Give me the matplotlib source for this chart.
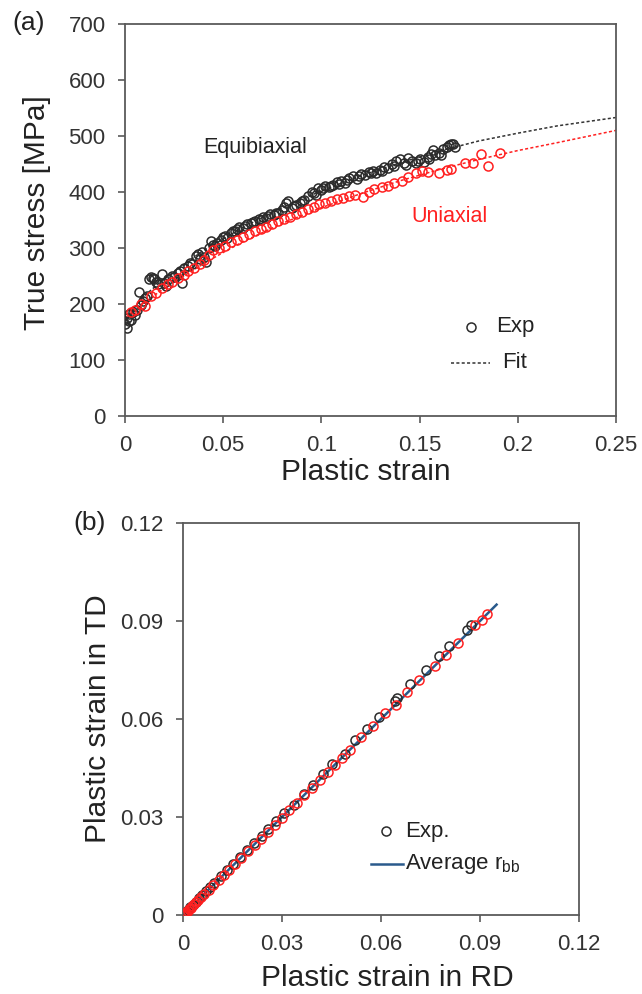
import matplotlib
matplotlib.use("Agg")
import matplotlib.pyplot as plt

plt.rcParams['font.family'] = ['Liberation Sans', 'DejaVu Sans']
plt.rcParams['mathtext.fontset'] = 'custom'
plt.rcParams['mathtext.rm'] = 'Liberation Sans'

# (a) equibiaxial experiment (black)
eq_strain = [0.000, 0.001, 0.001, 0.002, 0.002, 0.003, 0.004, 0.005, 0.006, 0.007,
             0.008, 0.009, 0.010, 0.011, 0.012, 0.013, 0.014, 0.015, 0.016, 0.017,
             0.019, 0.020, 0.021, 0.022, 0.024, 0.025, 0.027, 0.028, 0.029, 0.030,
             0.032, 0.034, 0.036, 0.037, 0.038, 0.040, 0.041, 0.043, 0.044, 0.045,
             0.047, 0.049, 0.050, 0.052, 0.054, 0.055, 0.057, 0.058, 0.060, 0.062,
             0.064, 0.066, 0.068, 0.070, 0.072, 0.074, 0.076, 0.078, 0.080, 0.082,
             0.083, 0.085, 0.087, 0.089, 0.091, 0.093, 0.095, 0.096, 0.098, 0.100,
             0.102, 0.104, 0.106, 0.108, 0.110, 0.112, 0.114, 0.116, 0.118, 0.120,
             0.122, 0.124, 0.126, 0.128, 0.130, 0.132, 0.134, 0.136, 0.138, 0.140,
             0.142, 0.144, 0.146, 0.148, 0.150, 0.152, 0.154, 0.156, 0.157, 0.158,
             0.160, 0.162, 0.164, 0.165, 0.166, 0.167, 0.168,
             0.033, 0.039, 0.046, 0.051, 0.056, 0.061, 0.065, 0.069, 0.073, 0.077,
             0.081, 0.086, 0.090, 0.097, 0.101, 0.105, 0.109, 0.113, 0.119, 0.125,
             0.131, 0.137, 0.143, 0.149, 0.155, 0.161]
eq_stress = [165, 175, 158, 182, 170, 172, 185, 180, 190, 222,
             198, 205, 210, 215, 245, 248, 246, 244, 240, 235,
             254, 238, 232, 244, 250, 248, 255, 258, 237, 264,
             268, 272, 285, 290, 280, 283, 275, 300, 312, 305,
             308, 315, 320, 318, 326, 330, 334, 338, 336, 342,
             345, 349, 352, 355, 354, 360, 358, 363, 367, 380,
             384, 372, 377, 380, 386, 392, 400, 398, 407, 404,
             410, 408, 412, 418, 420, 416, 425, 428, 424, 432,
             430, 436, 438, 434, 440, 444, 442, 450, 455, 458,
             452, 460, 456, 452, 458, 454, 462, 468, 475, 466,
             470, 476, 480, 483, 485, 486, 481,
             274, 292, 303, 322, 331, 340, 347, 350, 357, 362,
             374, 375, 384, 394, 407, 411, 414, 421, 429, 433,
             437, 446, 448, 455, 458, 466]

# (a) uniaxial experiment (red)
uni_strain = [0.003, 0.005, 0.008, 0.010, 0.013, 0.016, 0.019, 0.022, 0.024, 0.027,
              0.030, 0.032, 0.035, 0.038, 0.040, 0.043, 0.045, 0.048, 0.051, 0.054,
              0.057, 0.060, 0.063, 0.066, 0.069, 0.072, 0.075, 0.078, 0.081, 0.084,
              0.087, 0.090, 0.093, 0.096, 0.099, 0.102, 0.105, 0.108, 0.111, 0.114,
              0.117, 0.121, 0.124, 0.127, 0.131, 0.134, 0.137, 0.141, 0.144, 0.148,
              0.151, 0.154, 0.160, 0.164, 0.166, 0.173, 0.177, 0.181, 0.185, 0.191]
uni_stress = [186, 190, 200, 197, 214, 220, 228, 235, 240, 246,
              252, 258, 265, 272, 279, 288, 296, 300, 303, 310,
              314, 320, 325, 330, 334, 338, 343, 348, 352, 356,
              360, 365, 369, 373, 378, 381, 384, 388, 390, 392,
              394, 391, 400, 406, 409, 410, 416, 420, 426, 433,
              437, 436, 433, 440, 441, 452, 451, 467, 446, 469]

# (a) fitted curves
fit_strain = [0, 0.005, 0.01, 0.02, 0.03, 0.04, 0.05, 0.06, 0.08, 0.10,
              0.12, 0.14, 0.16, 0.18, 0.20, 0.22, 0.25]
fit_eq = [170, 195, 215, 245, 270, 296, 316, 337, 372, 402,
          429, 452, 473, 491, 505, 518, 533]
fit_uni = [175, 190, 203, 228, 250, 272, 292, 311, 344, 372,
           397, 420, 440, 458, 474, 488, 510]

# (b) strain in RD vs TD
bk_rd = [0, 0.0004, 0.0009, 0.0015, 0.0022, 0.003, 0.0039, 0.0048, 0.0058, 0.0069,
         0.0081, 0.0094, 0.0115, 0.0133, 0.0152, 0.0173, 0.0194, 0.0215, 0.0238, 0.0259,
         0.0283, 0.0306, 0.0335, 0.0366, 0.0395, 0.0424, 0.0452, 0.0492, 0.0522, 0.0557,
         0.0594, 0.0643, 0.0648, 0.0687, 0.0737, 0.0776, 0.0805, 0.086, 0.0873]
bk_td = [0, 0.0005, 0.001, 0.0016, 0.0024, 0.0032, 0.0041, 0.0051, 0.0061, 0.0072,
         0.0085, 0.0099, 0.012, 0.0137, 0.0155, 0.0177, 0.0198, 0.0221, 0.0241, 0.0262,
         0.0287, 0.0312, 0.0337, 0.037, 0.0399, 0.0431, 0.0461, 0.0494, 0.0537, 0.0569,
         0.0606, 0.0655, 0.0663, 0.0707, 0.075, 0.0794, 0.0822, 0.0871, 0.0889]
rd_rd = [0, 0.0003, 0.0006, 0.001, 0.0014, 0.0018, 0.0023, 0.0028, 0.0034, 0.004,
         0.0047, 0.0055, 0.0065, 0.0078, 0.0092, 0.0108, 0.0124, 0.014, 0.0158, 0.0177,
         0.0197, 0.0217, 0.0237, 0.0257, 0.0278, 0.030, 0.0322, 0.0345, 0.0368, 0.0391,
         0.0414, 0.0438, 0.046, 0.0482, 0.0505, 0.054, 0.0575, 0.0612, 0.0644, 0.0678,
         0.0714, 0.0762, 0.0796, 0.0834, 0.0886, 0.0905, 0.092]
rd_td = [0, 0.0003, 0.0006, 0.001, 0.0013, 0.0018, 0.0022, 0.0028, 0.0033, 0.004,
         0.0046, 0.0054, 0.0064, 0.0077, 0.0091, 0.0106, 0.0122, 0.0139, 0.0156, 0.0175,
         0.0196, 0.0215, 0.0234, 0.0254, 0.0275, 0.0298, 0.032, 0.0343, 0.0366, 0.0389,
         0.0412, 0.0437, 0.0459, 0.048, 0.0506, 0.0545, 0.0578, 0.0618, 0.0644, 0.0682,
         0.072, 0.0761, 0.0797, 0.0833, 0.0889, 0.0904, 0.0921]
avg_rd = [0, 0.095]
avg_td = [0, 0.095]

RED = '#ff2020'
DARK = '#2b2b2b'
SPINE = '#5a5a5a'

fig = plt.figure(figsize=(6.42, 9.94), dpi=100)
ax1 = fig.add_axes([0.1947, 0.5815, 0.765, 0.3944])
ax2 = fig.add_axes([0.285, 0.0795, 0.617, 0.3944])


def style(ax):
    for s in ax.spines.values():
        s.set_color(SPINE)
        s.set_linewidth(1.3)
    ax.tick_params(direction='out', length=5, width=1.2, color=SPINE,
                   labelsize=16, labelcolor='#333333', pad=9)


# panel (a)
ax1.plot(fit_strain, fit_eq, ls=(0, (2, 1.5)), color='#333333', lw=1.1, zorder=2)
ax1.plot(fit_strain, fit_uni, ls=(0, (2, 1.5)), color=RED, lw=1.1, zorder=2)
ax1.plot(eq_strain, eq_stress, 'o', mfc='none', mec=DARK, ms=6.5, mew=1.1, zorder=3)
ax1.plot(uni_strain, uni_stress, 'o', mfc='none', mec=RED, ms=6.5, mew=1.1, zorder=3)
ax1.set_xlim(0, 0.25)
ax1.set_ylim(0, 700)
ax1.set_xticks([0, 0.05, 0.1, 0.15, 0.2, 0.25])
ax1.set_xticklabels(['0', '0.05', '0.1', '0.15', '0.2', '0.25'])
ax1.set_yticks(range(0, 701, 100))
style(ax1)
ax1.set_xlabel('Plastic strain', fontsize=21.5, color='#222222')
ax1.set_ylabel('True stress [MPa]', fontsize=21.5, color='#222222')
ax1.xaxis.set_label_coords(0.49, -0.108)
ax1.yaxis.set_label_coords(-0.15, 0.52)
ax1.text(0.0397, 480, 'Equibiaxial', fontsize=15.5, color='#222222', va='center')
ax1.text(0.1456, 357, 'Uniaxial', fontsize=15.5, color=RED, va='center')
# legend (a)
ax1.plot([0.176], [159], 'o', mfc='none', mec=DARK, ms=6.5, mew=1.1)
ax1.text(0.189, 159, 'Exp', fontsize=16, color='#222222', va='center')
ax1.plot([0.166, 0.186], [95, 95], ls=(0, (2, 1.5)), color='#333333', lw=1.1)
ax1.text(0.192, 95, 'Fit', fontsize=16, color='#222222', va='center')
fig.text(0.045, 0.977, '(a)', fontsize=19, color='#222222', ha='center', va='center')

# panel (b)
ax2.plot(avg_rd, avg_td, '-', color='#2a5a8c', lw=1.8, zorder=2)
ax2.plot(bk_rd, bk_td, 'o', mfc='none', mec=DARK, ms=6.5, mew=1.1, zorder=3)
ax2.plot(rd_rd, rd_td, 'o', mfc='none', mec=RED, ms=6.5, mew=1.1, zorder=3)
ax2.set_xlim(0, 0.12)
ax2.set_ylim(0, 0.12)
ticks = [0, 0.03, 0.06, 0.09, 0.12]
ax2.set_xticks(ticks)
ax2.set_yticks(ticks)
ax2.set_xticklabels(['0', '0.03', '0.06', '0.09', '0.12'])
ax2.set_yticklabels(['0', '0.03', '0.06', '0.09', '0.12'])
style(ax2)
ax2.set_xlabel('Plastic strain in RD', fontsize=21.5, color='#222222')
ax2.set_ylabel('Plastic strain in TD', fontsize=21.5, color='#222222')
ax2.xaxis.set_label_coords(0.515, -0.125)
ax2.yaxis.set_label_coords(-0.178, 0.5)
# legend (b)
ax2.plot([0.0614], [0.0256], 'o', mfc='none', mec=DARK, ms=6.5, mew=1.1)
ax2.text(0.0672, 0.0256, 'Exp.', fontsize=16, color='#222222', va='center')
ax2.plot([0.0571, 0.0668], [0.0155, 0.0155], '-', color='#2a5a8c', lw=1.8)
ax2.text(0.0672, 0.0155, r'Average r$_\mathregular{bb}$', fontsize=16,
         color='#222222', va='center')
fig.text(0.14, 0.474, '(b)', fontsize=19, color='#222222', ha='center', va='center')

fig.savefig('out.png', dpi=100)
